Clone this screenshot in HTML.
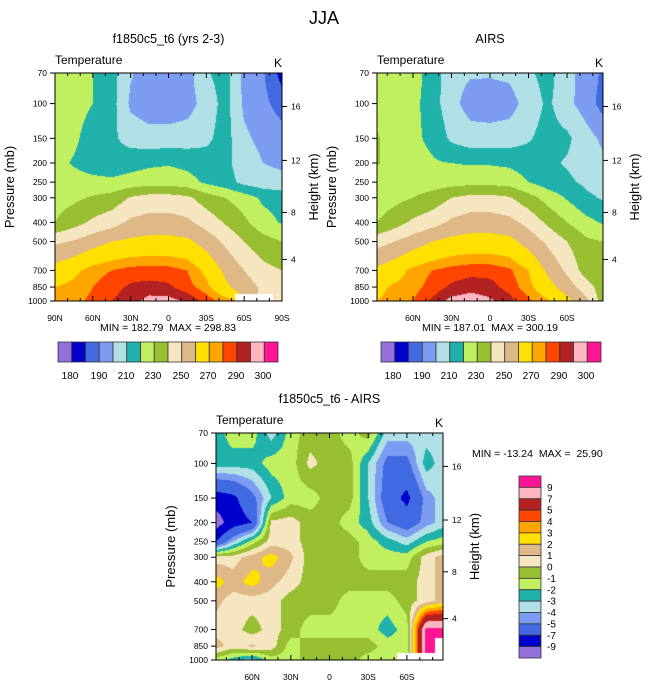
<!DOCTYPE html>
<html><head><meta charset="utf-8"><style>
body{margin:0;background:#fff;position:relative;width:648px;height:685px;overflow:hidden;}
svg{position:absolute;left:0;top:0;}
canvas{position:absolute;}
svg text{font-family:"Liberation Sans",sans-serif;fill:#000;white-space:pre;}
</style></head><body>
<svg id="root" width="648" height="685" viewBox="0 0 648 685" xmlns="http://www.w3.org/2000/svg">
<text x="324" y="24" font-size="18" text-anchor="middle">JJA</text>
</svg>
<script>
// ---------- data ----------
const pressureLevels = [70,100,150,200,250,300,400,500,700,850,1000];
const latsModel = [90,75,60,45,30,15,0,-15,-30,-45,-60,-75,-90];
const latsObs = [88,75,60,45,30,15,0,-15,-30,-45,-60,-75,-88];
const tempBounds = [180,190,200,210,220,230,240,250,260,270,280,285,290,295];
const tempColors = ["#9370DB","#0000CD","#4169E1","#7B9CF0","#B0E0E6","#20B2AA","#C0F060","#98BE32","#F5E6C0","#DEB887","#FFE000","#FFA500","#FF4500","#B22222","#FFB6C1","#FF1493"];
const diffBounds = [-9,-7,-5,-4,-3,-2,-1,0,1,2,3,4,5,7,9];
const diffColors = ["#9370DB","#0000CD","#4169E1","#7B9CF0","#B0E0E6","#20B2AA","#C0F060","#98BE32","#F5E6C0","#DEB887","#FFE000","#FFA500","#FF4500","#B22222","#FFB6C1","#FF1493"];
const tempBarLabels = ["180","190","210","230","250","270","290","300"];
const diffBarLabels = ["9","7","5","4","3","2","1","0","-1","-2","-3","-4","-5","-7","-9"];
const pressureTickLabels = ["70","100","150","200","250","300","400","500","700","850","1000"];
const heightTicks = [4,8,12,16];
const heightPressure = [616,356,194,103.5];
const modelLatTicks = ["90N","60N","30N","0","30S","60S","90S"];
const modelLatTickValues = [90,60,30,0,-30,-60,-90];
const obsLatTicks = ["60N","30N","0","30S","60S"];
const obsLatTickValues = [60,30,0,-30,-60];

const modelTemp = [
[236,234,230,224,211,205,205,206,219,224,207,201,186],
[236,234,230,224,208,204,204,206,214,224,208,203,195],
[236,232,225,222,216,214,214,215,218,224,212,207,205],
[233,229,225,224,226,228,229,227,224,222,216,210,208],
[235,234,233,232,234,236,236,234,228,224,217,214,213],
[236,238,241,244,251,254,254,252,245,240,235,228,226],
[240,246,252,256,262,264,264,262,256,249,242,234,229],
[258,261,266,270,272,273,273,272,266,258,250,244,240],
[274,278,283,285,287,287,287,285,278,268,260,253,250],
[280,282,285,288,291,292,291,287,282,272,265,258,254],
[282,284,286,290,293,297,297,294,288,283,null,null,258]];
const obsTemp = [
[236,236,234,226,213,211,211,212,218,224,213,206,198],
[236,236,233,225,213,206,205,206,214,222,213,205,196],
[241,235,232,228,218,214,214,215,219,224,222,214,208],
[241,236,233,231,230,229,229,228,225,222,219,215,212],
[235,235,235,235,236,237,237,236,230,225,222,218,216],
[235,237,240,244,250,253,253,251,244,236,229,222,219],
[240,245,252,256,262,265,265,263,257,248,240,233,229],
[256,260,265,270,273,274,274,273,266,258,250,242,240],
[272,276,282,285,287,288,288,286,280,268,258,245,241],
[278,281,283,287,291,293,292,288,282,274,265,255,244],
[280,282,285,291,297,298,296,292,286,281,273,262,245]];
const diffTemp = [
[-2.5,-1.5,-1.5,-3.5,-1.5,-0.5,-0.5,-1.5,-0.5,-3.5,-3.5,-3.5,-3.5],
[-2.5,-2.5,-2.5,-1.5,-1.5,0.3,-0.5,-0.5,-3.0,-5.5,-5.5,-2.5,-3.5],
[-8,-7.5,-5.5,-3,-1.5,-1.5,-0.5,-0.5,-3,-6,-7.5,-4.5,-3.5],
[-10,-8,-7,0.3,0.5,-0.5,-0.5,-1.5,-2.5,-5,-6,-4.5,-3.5],
[-7,-4,-1.5,0.5,0.5,-0.5,-0.5,-0.5,-1.5,-2.5,-3.5,-2,-1.5],
[0.5,0.5,1.5,2.5,1.2,-0.5,-0.5,-0.5,-1.5,-1.5,-1.5,0.5,1.5],
[2.5,1.5,2.5,1.3,0.5,-0.5,-0.5,-0.5,-0.5,-0.5,-0.5,0.5,1.5],
[1.3,0.5,0.5,0.5,-0.5,-0.5,-0.5,-1.5,-1.5,-1.5,-0.5,0.5,1.5],
[0.5,0.5,-0.5,0.5,-0.5,-1.5,-1.5,-1.5,-1.5,-2.5,-1.5,9.5,9.5],
[1.5,0.5,1.2,0.5,-1.5,-0.5,-0.5,-0.5,-0.5,-1.5,-1.5,9.5,null],
[-1.5,-2.5,-3.5,-1.5,-1.5,-0.5,-0.5,-0.5,-1.5,-1.5,null,null,null]];

// ---------- drawing ----------
const NS="http://www.w3.org/2000/svg";
const root=document.getElementById('root');
function mk(tag,attrs,parent){const e=document.createElementNS(NS,tag);for(const k in attrs)e.setAttribute(k,attrs[k]);(parent||root).appendChild(e);return e;}
function colorIdx(v,bounds){let i=0;while(i<bounds.length&&v>=bounds[i])i++;return i;}
function hexRgb(h){return [parseInt(h.slice(1,3),16),parseInt(h.slice(3,5),16),parseInt(h.slice(5,7),16)];}

function panel(opt){
  const {x0,y0,w,h,lats,grid,bounds,colors,name}=opt;
  const g=mk('g',{});
  
  
  const latL=lats[0],latR=lats[lats.length-1];
  const xOf=lat=>x0+(latL-lat)/(latL-latR)*w;
  const lp0=Math.log(70),lp1=Math.log(1000);
  const yOf=p=>y0+(Math.log(p)-lp0)/(lp1-lp0)*h;
  const nodeX=lats.map(xOf), nodeY=pressureLevels.map(yOf);
  function findIdx(arr,v){for(let i=0;i<arr.length-2;i++){if(v<=arr[i+1])return i;}return arr.length-2;}
  function val(px,py){
    const i=findIdx(nodeX,px), j=findIdx(nodeY,py);
    const tx=Math.min(1,Math.max(0,(px-nodeX[i])/(nodeX[i+1]-nodeX[i])));
    const ty=Math.min(1,Math.max(0,(py-nodeY[j])/(nodeY[j+1]-nodeY[j])));
    const ni=tx<0.5?i:i+1, nj=ty<0.5?j:j+1;
    if(grid[nj][ni]===null)return null;
    const c=[[grid[j][i],(1-tx)*(1-ty)],[grid[j][i+1],tx*(1-ty)],[grid[j+1][i],(1-tx)*ty],[grid[j+1][i+1],tx*ty]];
    let s=0,ws=0;for(const [v,wt] of c){if(v!==null){s+=v*wt;ws+=wt;}}
    return ws>0?s/ws:null;
  }
  const rgb=colors.map(hexRgb);
  const cv=document.createElement('canvas');
  cv.width=w;cv.height=h;
  cv.style.left=x0+'px';cv.style.top=y0+'px';
  
  
  document.body.insertBefore(cv,root);
  const ctx=cv.getContext('2d');
  const img=ctx.createImageData(w,h);
  for(let yy=0;yy<h;yy++){
    for(let xx=0;xx<w;xx++){
      const v=val(x0+xx+0.5,y0+yy+0.5);
      const c=v===null?[255,255,255]:rgb[colorIdx(v,bounds)];
      const o=(yy*w+xx)*4;
      img.data[o]=c[0];img.data[o+1]=c[1];img.data[o+2]=c[2];img.data[o+3]=255;
    }
  }
  ctx.putImageData(img,0,0);
  const fr=mk('rect',{x:x0,y:y0,width:w,height:h,fill:'none',stroke:'#000','stroke-width':1},g);
  
  
  pressureLevels.forEach((p,k)=>{
    const y=yOf(p);
    mk('line',{x1:x0-5,x2:x0,y1:y,y2:y,stroke:'#000'},g);
    const t=mk('text',{x:x0-8,y:y+3,'font-size':8.5,'text-anchor':'end'},g);
    t.textContent=pressureTickLabels[k];
    
    
  });
  heightTicks.forEach((z,k)=>{
    const y=yOf(heightPressure[k]);
    mk('line',{x1:x0+w,x2:x0+w+5,y1:y,y2:y,stroke:'#000'},g);
    const t=mk('text',{x:x0+w+9,y:y+3,'font-size':8.5},g);
    t.textContent=String(z);
    
    
  });
  for(let lat=90;lat>=-90;lat-=10){
    if(lat>latL||lat<latR)continue;
    const x=xOf(lat), major=lat%30===0;
    const L=major?5:3;
    mk('line',{x1:x,x2:x,y1:y0+h,y2:y0+h-L,stroke:'#000'},g);
    mk('line',{x1:x,x2:x,y1:y0,y2:y0+L,stroke:'#000'},g);
  }
  opt.tickVals.forEach((lat,k)=>{
    const t=mk('text',{x:xOf(lat),y:y0+h+20,'font-size':8.5,'text-anchor':'middle'},g);
    t.textContent=opt.tickLabels[k];
    
    
  });
  const tt=mk('text',{x:x0+w/2,y:y0-30,'font-size':12.5,'text-anchor':'middle'},g);
  tt.textContent=opt.title;
  
  
  const lt=mk('text',{x:x0,y:y0-9,'font-size':12},g);
  lt.textContent='Temperature';
  
  
  const kt=mk('text',{x:x0+w,y:y0-6,'font-size':12,'text-anchor':'end'},g);
  kt.textContent='K';
  
  
  const py=mk('text',{x:0,y:0,'font-size':13,'text-anchor':'middle',transform:`translate(${x0-41},${y0+h/2}) rotate(-90)`},g);
  py.textContent='Pressure (mb)';
  
  
  const hy=mk('text',{x:0,y:0,'font-size':13,'text-anchor':'middle',transform:`translate(${x0+w+36},${y0+h/2}) rotate(-90)`},g);
  hy.textContent='Height (km)';
  
  
  const m=mk('text',{x:opt.minmax[0],y:opt.minmax[1],'font-size':10.5,'text-anchor':opt.minmax[2]},g);
  m.textContent=opt.minmaxText;
  
  
}

function hbar(x0,y0,w,h,colors,labelXs,name){
  const g=mk('g',{});
  
  
  const bw=w/colors.length;
  colors.forEach((c,i)=>{
    const r=mk('rect',{x:x0+i*bw,y:y0,width:bw,height:h,fill:c,stroke:'#333','stroke-width':0.8},g);
    
    
  });
  tempBarLabels.forEach((l,i)=>{
    const t=mk('text',{x:labelXs[i],y:y0+h+17,'font-size':10,'text-anchor':'middle'},g);
    t.textContent=l;
    
    
  });
}
const barLabelOffsets=[12,41,68,95,123,150,178,205];

panel({x0:55,y0:73,w:227,h:228,lats:latsModel,grid:modelTemp,bounds:tempBounds,colors:tempColors,name:'model-panel',
  title:'f1850c5_t6 (yrs 2-3)',tickVals:modelLatTickValues,tickLabels:modelLatTicks,minmax:[168,331,'middle'],minmaxText:'MIN = 182.79  MAX = 298.83'});
hbar(58,342,220,20,tempColors,barLabelOffsets.map(o=>58+o),'model-colorbar');
panel({x0:377,y0:73,w:226,h:228,lats:latsObs,grid:obsTemp,bounds:tempBounds,colors:tempColors,name:'airs-panel',
  title:'AIRS',tickVals:obsLatTickValues,tickLabels:obsLatTicks,minmax:[490,331,'middle'],minmaxText:'MIN = 187.01  MAX = 300.19'});
hbar(381,342,220,20,tempColors,barLabelOffsets.map(o=>381+o),'airs-colorbar');
panel({x0:216,y0:433,w:227,h:227,lats:latsObs,grid:diffTemp,bounds:diffBounds,colors:diffColors,name:'difference-panel',
  title:'f1850c5_t6 - AIRS',tickVals:obsLatTickValues,tickLabels:obsLatTicks,minmax:[472,457,'start'],minmaxText:'MIN = -13.24  MAX =  25.90'});
(function(){
  const g=mk('g',{});
  
  
  const x0=519,y0=476,w=22,h=182,n=diffColors.length,bh=h/n;
  for(let i=0;i<n;i++){
    const r=mk('rect',{x:x0,y:y0+i*bh,width:w,height:bh,fill:diffColors[n-1-i],stroke:'#333','stroke-width':0.8},g);
    
    
  }
  diffBarLabels.forEach((l,i)=>{
    const t=mk('text',{x:x0+w+6,y:y0+(i+1)*bh+3.5,'font-size':10},g);
    t.textContent=l;
    
    
  });
})();
</script>
</body></html>
